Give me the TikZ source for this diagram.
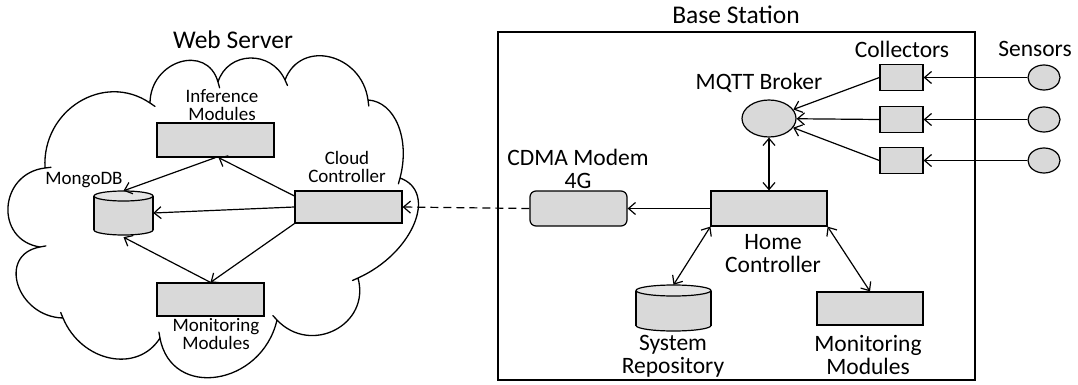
\documentclass[tikz,border=0pt]{standalone}
\usepackage{fontspec}
\setmainfont{Carlito}
\usetikzlibrary{arrows.meta,shapes.geometric,calc}
\definecolor{boxgray}{HTML}{D9D9D9}
\definecolor{topgray}{HTML}{E4E4E4}
\tikzset{
  box/.style={draw, fill=boxgray, line width=1.2pt, inner sep=0pt},
  hold/.style={inner sep=0pt, draw=none},
  ttl/.style={font=\fontsize{25.5}{27}\selectfont, align=center, inner sep=0pt},
  blbl/.style={font=\fontsize{23.5}{23.5}\selectfont, align=center, inner sep=0pt},
  clbl/.style={font=\fontsize{19}{18}\selectfont, align=center, inner sep=0pt},
  arr/.style={-{Straight Barb[length=7pt,width=12pt]}, line width=1.2pt},
  darr/.style={{Straight Barb[length=7pt,width=12pt]}-{Straight Barb[length=7pt,width=12pt]}, line width=1.2pt},
  cloudline/.style={line width=1.3pt, line join=round, line cap=round},
}
\begin{document}
\begin{tikzpicture}[x=1pt, y=-1pt]
\useasboundingbox[fill=white] (0,0) rectangle (1078,385);

% ---------- cloud (overlapping puffs) ----------
\draw[cloudline]
  (45,168) .. controls (41.8,110) and (103.8,71.6) .. (150,103) -- (155,106.4)
  (150,103) .. controls (150.4,60.5) and (207,43.1) .. (218,82) -- (219.6,87.8)
  (218,82) .. controls (227.8,51) and (271.2,49.7) .. (285,80) -- (287.5,85.5)
  (285,80) .. controls (300.7,38.6) and (361.7,53.4) .. (368,100) -- (368.8,106)
  (368,100) .. controls (395,101.6) and (410.4,139) .. (400,178) -- (398.4,183.8)
  (400,178) .. controls (438.6,192) and (412.8,253.4) .. (358,278) -- (352.5,280.5)
  (358,278) .. controls (370.8,324.8) and (310.8,355.8) .. (277,320) -- (272.9,315.6)
  (277,320) .. controls (261.7,386.1) and (171.3,399.9) .. (160,338) -- (158.9,332.1)
  (160,338) .. controls (137.5,373.8) and (81.5,362.2) .. (63,318) -- (60.7,312.5)
  (63,318) .. controls (16.9,316.8) and (-3.3,254.8) .. (40,247) -- (45.9,245.9)
  (40,247) .. controls (-5.6,240) and (-1.4,173.6) .. (45,168) -- (51,167.3);

\node[ttl] (wstitle) at (233,40) {Web Server};

% cloud nodes
\node[box, minimum width=117pt, minimum height=34pt] (inf) at (215.5,140) {};
\node[clbl] (inflbl) at (222,105) {Inference\\Modules};
\node[box, minimum width=107pt, minimum height=32pt] (cc) at (348.5,207) {};
\node[clbl] (cclbl) at (347,167) {Cloud\\Controller};
\node[box, minimum width=107pt, minimum height=33pt] (monA) at (210.5,299.5) {};
\node[clbl] (monAlbl) at (216,334.5) {Monitoring\\Modules};
\node[hold, minimum width=59pt, minimum height=44pt] (mongo) at (123.5,213) {};
\node[clbl] (mongolbl) at (84,180) {MongoDB};
% MongoDB cylinder
\draw[line width=1.2pt, fill=boxgray] (123.5,230) ellipse [x radius=29.5, y radius=5];
\fill[boxgray] (94,196) rectangle (153,230);
\draw[line width=1.2pt] (94,196) -- (94,230) (153,196) -- (153,230);
\draw[line width=1.2pt, fill=topgray] (123.5,196) ellipse [x radius=29.5, y radius=5];

% cloud connectors
\draw[arr] (inf.south) -- (mongo.north);
\draw[arr] ([yshift=11pt]cc.west) -- ([xshift=3pt]inf.south);
\draw[arr] (cc.west) -- (mongo.east);
\draw[arr] (cc.south west) -- (monA.north);
\draw[arr] (monA.north) -- ([yshift=-2pt]mongo.south);

% ---------- base station ----------
\node[ttl] (bstitle) at (736,15) {Base Station};
\draw[line width=2.6pt] (498,32) rectangle (975,380);

\node[blbl] (colllbl) at (902,49) {Collectors};
\node[blbl] (senslbl) at (1035,49) {Sensors};
\node[blbl] (brokerlbl) at (759,83) {MQTT Broker};

\node[box, minimum width=43pt, minimum height=26pt] (c1) at (901.5,77.5) {};
\node[box, minimum width=43pt, minimum height=26pt] (c2) at (901.5,119.5) {};
\node[box, minimum width=43pt, minimum height=26pt] (c3) at (901.5,160.5) {};
\node[box, ellipse, minimum width=32pt, minimum height=25pt] (s1) at (1044,77.5) {};
\node[box, ellipse, minimum width=32pt, minimum height=25pt] (s2) at (1044,119.5) {};
\node[box, ellipse, minimum width=32pt, minimum height=25pt] (s3) at (1044,160.5) {};
\node[box, ellipse, minimum width=54pt, minimum height=37pt] (broker) at (769,118.5) {};

\node[box, minimum width=116pt, minimum height=35pt] (home) at (769,208.5) {};
\node[blbl] (homelbl) at (773,253.5) {Home\\Controller};
\node[box, rounded corners=6pt, minimum width=97pt, minimum height=35pt] (modem) at (578.5,208.5) {};
\node[blbl] (modemlbl) at (578,169) {CDMA Modem\\4G};
\node[box, minimum width=106pt, minimum height=33pt] (monB) at (870,308.5) {};
\node[blbl] (monBlbl) at (868,355) {Monitoring\\Modules};
\node[hold, minimum width=75pt, minimum height=46pt] (repo) at (673.5,308) {};
\node[blbl] (repolbl) at (673,356.5) {System\\Repository};
% repository cylinder
\draw[line width=1.2pt, fill=boxgray] (673.5,325.5) ellipse [x radius=37.5, y radius=5.5];
\fill[boxgray] (636,290.5) rectangle (711,325.5);
\draw[line width=1.2pt] (636,290.5) -- (636,325.5) (711,290.5) -- (711,325.5);
\draw[line width=1.2pt, fill=topgray] (673.5,290.5) ellipse [x radius=37.5, y radius=5.5];

% base station connectors
\draw[arr] (s1.west) -- (c1.east);
\draw[arr] (s2.west) -- (c2.east);
\draw[arr] (s3.west) -- (c3.east);
\draw[arr] (c1.west) -- (broker);
\draw[arr] (c2.west) -- (broker);
\draw[arr] (c3.west) -- (broker);
\draw[darr] (broker.south) -- (home.north);
\draw[arr] (home.west) -- (modem.east);
\draw[darr] (home.south west) -- (repo.north);
\draw[darr] (home.south east) -- (monB.north);
\draw[arr, dash pattern=on 8pt off 5pt] (modem.west) -- (cc.east);
\end{tikzpicture}
\end{document}
